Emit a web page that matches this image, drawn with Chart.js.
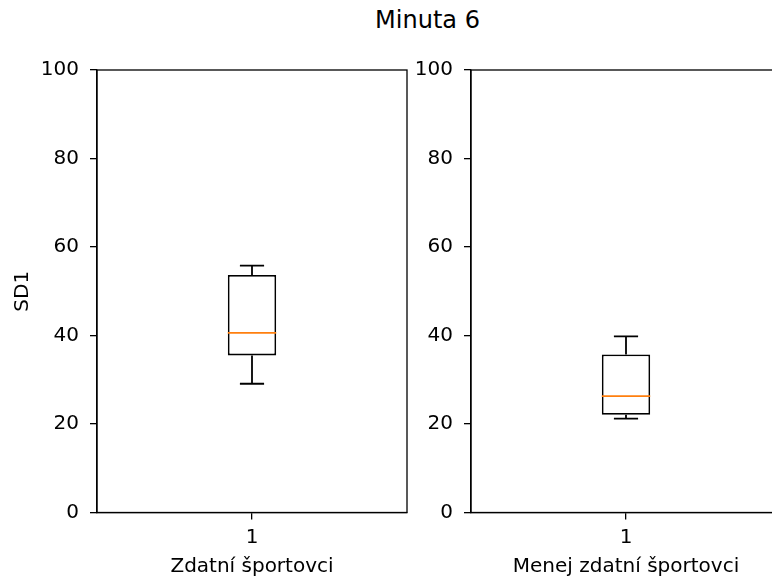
<!DOCTYPE html>
<html>
<head>
<meta charset="utf-8">
<script src="https://cdn.jsdelivr.net/npm/chart.js@4/dist/chart.umd.min.js"></script>
<style>
  html, body { margin: 0; padding: 0; background: #fff; overflow: hidden; }
  body { width: 772px; height: 579px; position: relative; }
  #title { position: absolute; left: 0; width: 855px; top: 6px; text-align: center;
           font-family: "DejaVu Sans", sans-serif; font-size: 24px; color: #000; }
  .wrap { position: absolute; top: 0; height: 579px; }
  #w1 { left: 0; width: 408px; }
  #w2 { left: 408px; width: 380px; }
</style>
</head>
<body>
<div id="title">Minuta 6</div>
<div class="wrap" id="w1"><canvas id="c1"></canvas></div>
<div class="wrap" id="w2"><canvas id="c2"></canvas></div>
<script>
// SD1 distribution per group (box plot summary)
const groups = ['Zdatní športovci', 'Menej zdatní športovci'];
const positions = ['1'];
const whiskerLow = [29.1, 21.2];
const quartile1 = [35.5, 22.1];
const medians = [40.6, 26.3];
const quartile3 = [53.7, 35.7];
const whiskerHigh = [55.8, 39.8];
const yTicks = [0, 20, 40, 60, 80, 100];

const FONT = '"DejaVu Sans", sans-serif';
Chart.defaults.font.family = FONT;
Chart.defaults.color = '#000';

// whiskers, caps, median line and the full axes frame
const boxExtras = {
  id: 'boxExtras',
  afterDatasetsDraw(chart, args, opts) {
    const g = opts.group;
    const ctx = chart.ctx;
    const x = chart.scales.x;
    const y = chart.scales.y;
    const bar = chart.getDatasetMeta(0).data[0];
    const cx = x.getPixelForValue(0);
    const half = bar.width / 2;
    const capHalf = half / 2;
    const py = v => y.getPixelForValue(v);
    ctx.save();
    ctx.strokeStyle = '#000';
    ctx.lineWidth = 1.8;
    ctx.beginPath();
    ctx.moveTo(cx, py(quartile3[g])); ctx.lineTo(cx, py(whiskerHigh[g]));
    ctx.moveTo(cx, py(quartile1[g])); ctx.lineTo(cx, py(whiskerLow[g]));
    ctx.moveTo(cx - capHalf, py(whiskerHigh[g])); ctx.lineTo(cx + capHalf, py(whiskerHigh[g]));
    ctx.moveTo(cx - capHalf, py(whiskerLow[g])); ctx.lineTo(cx + capHalf, py(whiskerLow[g]));
    ctx.stroke();
    ctx.strokeStyle = '#ff7f0e';
    ctx.beginPath();
    ctx.moveTo(cx - half, py(medians[g])); ctx.lineTo(cx + half, py(medians[g]));
    ctx.stroke();
    const a = chart.chartArea;
    ctx.strokeStyle = '#000';
    ctx.lineWidth = 1.3;
    ctx.strokeRect(a.left, a.top, a.right - a.left, a.bottom - a.top);
    ctx.restore();
  }
};

function makeChart(id, g, axisWidth, padRight) {
  return new Chart(document.getElementById(id), {
    type: 'bar',
    data: {
      labels: positions,
      datasets: [{
        data: [[quartile1[g], quartile3[g]]],
        backgroundColor: '#ffffff',
        borderColor: '#000000',
        borderWidth: 1.8,
        borderSkipped: false,
        barPercentage: 0.156,
        categoryPercentage: 1
      }]
    },
    options: {
      responsive: true,
      maintainAspectRatio: false,
      animation: false,
      events: [],
      layout: { padding: { left: 0, right: padRight, top: 70, bottom: 0 } },
      plugins: {
        legend: { display: false },
        tooltip: { enabled: false },
        boxExtras: { group: g }
      },
      scales: {
        x: {
          grid: { display: true, offset: false, drawOnChartArea: false, drawTicks: true, tickLength: 7, color: '#000', lineWidth: 1.3 },
          border: { display: true, color: '#000', width: 1.3 },
          ticks: { font: { size: 20 }, color: '#000', padding: 6, maxRotation: 0 },
          title: { display: true, text: groups[g], font: { size: 20 }, color: '#000', padding: { top: 3, bottom: 0 } },
          afterFit(s) { s.height = 66.5; }
        },
        y: {
          min: 0, max: 100,
          afterBuildTicks(s) { s.ticks = yTicks.map(v => ({ value: v })); },
          grid: { display: true, drawOnChartArea: false, drawTicks: true, tickLength: 7, color: '#000', lineWidth: 1.3 },
          border: { display: true, color: '#000', width: 1.3 },
          ticks: { font: { size: 20 }, color: '#000', padding: 11 },
          title: { display: g === 0, text: 'SD1', font: { size: 20 }, color: '#000', padding: { top: 11, bottom: 0 } },
          afterFit(s) { s.width = axisWidth; }
        }
      }
    },
    plugins: [boxExtras]
  });
}

makeChart('c1', 0, 97, 1);
makeChart('c2', 1, 63, 7);
</script>
</body>
</html>
